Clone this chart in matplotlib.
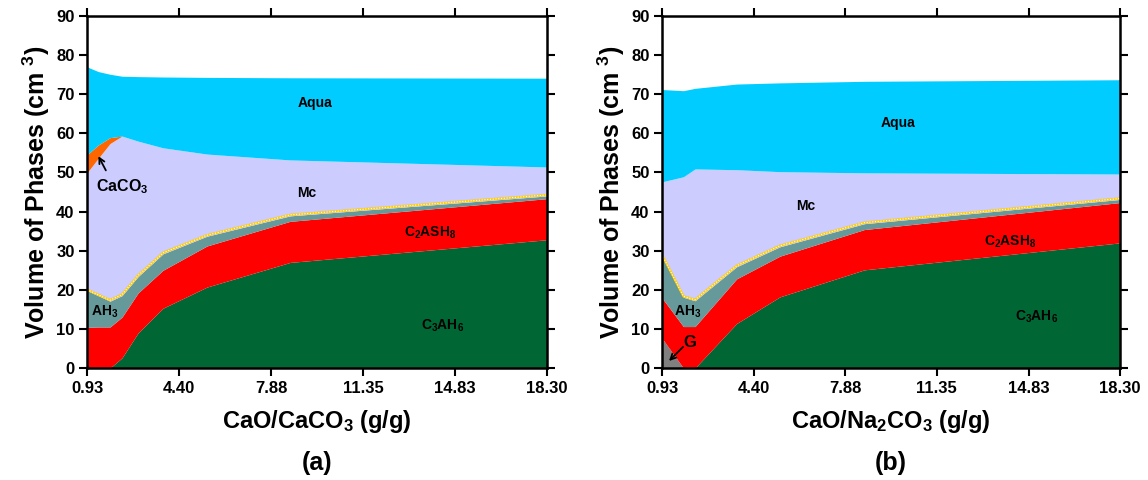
import numpy as np
import matplotlib
matplotlib.use('Agg')
import matplotlib.pyplot as plt

plt.rcParams['font.family'] = ['Liberation Sans', 'DejaVu Sans']
plt.rcParams['font.weight'] = 'bold'
plt.rcParams['axes.labelweight'] = 'bold'
plt.rcParams['mathtext.fontset'] = 'custom'
plt.rcParams['mathtext.rm'] = 'Liberation Sans:bold'
plt.rcParams['mathtext.bf'] = 'Liberation Sans:bold'
plt.rcParams['mathtext.it'] = 'Liberation Sans:bold'
plt.rcParams['mathtext.default'] = 'bf'

# panel (a): CaO/CaCO3, cumulative tops of each phase (cm3)
xa = [0.93, 1.35, 1.80, 2.25, 2.86, 3.80, 5.46, 8.60, 18.30]
a_c3ah6 = [0.0, 0.0, 0.0, 2.6, 9.0, 15.3, 20.7, 27.0, 32.8]
a_c2ash8 = [10.4, 10.5, 10.5, 13.0, 19.2, 25.0, 31.2, 37.5, 43.3]
a_ah3 = [19.8, 18.5, 17.1, 18.5, 23.4, 29.2, 33.7, 38.9, 44.0]
a_mc = [49.9, 53.6, 57.4, 59.3, 58.0, 56.3, 54.7, 53.2, 51.4]
a_caco3 = [54.5, 57.0, 58.9, 59.3, 58.0, 56.3, 54.7, 53.2, 51.4]
a_aqua = [77.0, 75.8, 75.1, 74.6, 74.5, 74.4, 74.3, 74.2, 74.1]

# panel (b): CaO/Na2CO3
xb = [0.93, 1.74, 2.18, 3.76, 5.40, 8.60, 18.30]
b_g = [7.6, 0.0, 0.0, 0.0, 0.0, 0.0, 0.0]
b_c3ah6 = [7.6, 0.0, 0.0, 11.4, 18.2, 25.1, 32.0]
b_c2ash8 = [17.9, 10.6, 10.6, 22.8, 28.6, 35.4, 42.3]
b_ah3 = [28.7, 18.1, 17.2, 25.9, 31.0, 36.9, 43.1]
b_mc = [47.6, 48.9, 50.9, 50.7, 50.2, 49.9, 49.6]
b_aqua = [71.2, 70.9, 71.5, 72.6, 72.9, 73.3, 73.7]

xticks = [0.93, 4.40, 7.88, 11.35, 14.83, 18.30]
yticks = [0, 10, 20, 30, 40, 50, 60, 70, 80, 90]

green = '#006633'
red = '#FF0000'
teal = '#669999'
lav = '#CCCCFF'
orange = '#FF6600'
aqua = '#00CCFF'
gray = '#808080'

fig = plt.figure(figsize=(11.48, 4.8), dpi=100)
ax1 = fig.add_axes([0.0758, 0.2333, 0.4007, 0.7334])
ax2 = fig.add_axes([0.5767, 0.2333, 0.3990, 0.7334])


def thin_line(ax, x, y):
    y = np.array(y) + 0.25
    ax.plot(x, y, color='#FFCC00', lw=1.6, zorder=3)
    ax.plot(x, y, color='white', lw=0.8, ls=(0, (1, 1.5)), zorder=4)


def label(ax, x, y, s, size=10):
    ax.text(x, y, s, fontsize=size, ha='center', va='center', zorder=5)


def style(ax, xlabel, tag):
    ax.set_xlim(0.93, 18.30)
    ax.set_ylim(0, 90)
    ax.set_xticks(xticks)
    ax.set_xticklabels(['%.2f' % t for t in xticks])
    ax.set_yticks(yticks)
    ax.tick_params(direction='out', length=6, width=1.5, labelsize=12,
                   top=True, right=True, pad=3)
    for s in ax.spines.values():
        s.set_linewidth(1.8)
        s.set_zorder(6)
    ax.set_ylabel('Volume of Phases (cm $^{3}$)', fontsize=18, labelpad=3)
    ax.set_xlabel(xlabel, fontsize=17, labelpad=9)
    ax.text(0.5, -0.27, tag, transform=ax.transAxes, ha='center',
            va='center', fontsize=18)


# (a)
ax1.fill_between(xa, 0, a_c3ah6, color=green, lw=0)
ax1.fill_between(xa, a_c3ah6, a_c2ash8, color=red, lw=0)
ax1.fill_between(xa, a_c2ash8, a_ah3, color=teal, lw=0)
ax1.fill_between(xa, a_ah3, a_mc, color=lav, lw=0)
ax1.fill_between(xa, a_mc, a_caco3, color=orange, lw=0)
ax1.fill_between(xa, a_caco3, a_aqua, color=aqua, lw=0)
thin_line(ax1, xa, a_ah3)
label(ax1, 9.54, 67.8, 'Aqua')
label(ax1, 9.24, 44.7, 'Mc')
label(ax1, 13.88, 34.6, 'C$_2$ASH$_8$')
label(ax1, 14.37, 10.8, 'C$_3$AH$_6$')
label(ax1, 1.61, 14.4, 'AH$_3$')
label(ax1, 2.25, 46.3, 'CaCO$_3$', 11.5)
ax1.annotate('', xy=(1.31, 54.8), xytext=(1.69, 49.9),
             arrowprops=dict(arrowstyle='->', color='black', lw=1.3))
style(ax1, 'CaO/CaCO$_3$ (g/g)', '(a)')

# (b)
ax2.fill_between(xb, 0, b_g, color=gray, lw=0)
ax2.fill_between(xb, b_g, b_c3ah6, color=green, lw=0)
ax2.fill_between(xb, b_c3ah6, b_c2ash8, color=red, lw=0)
ax2.fill_between(xb, b_c2ash8, b_ah3, color=teal, lw=0)
ax2.fill_between(xb, b_ah3, b_mc, color=lav, lw=0)
ax2.fill_between(xb, b_mc, b_aqua, color=aqua, lw=0)
thin_line(ax2, xb, b_ah3)
label(ax2, 9.88, 62.6, 'Aqua')
label(ax2, 6.39, 41.4, 'Mc')
label(ax2, 14.13, 32.3, 'C$_2$ASH$_8$')
label(ax2, 15.15, 13.1, 'C$_3$AH$_6$')
label(ax2, 1.92, 14.4, 'AH$_3$')
label(ax2, 2.0, 6.6, 'G', 12)
ax2.annotate('', xy=(1.12, 1.3), xytext=(1.80, 5.9),
             arrowprops=dict(arrowstyle='->', color='black', lw=1.3))
style(ax2, 'CaO/Na$_2$CO$_3$ (g/g)', '(b)')

fig.savefig('out.png', dpi=100)
